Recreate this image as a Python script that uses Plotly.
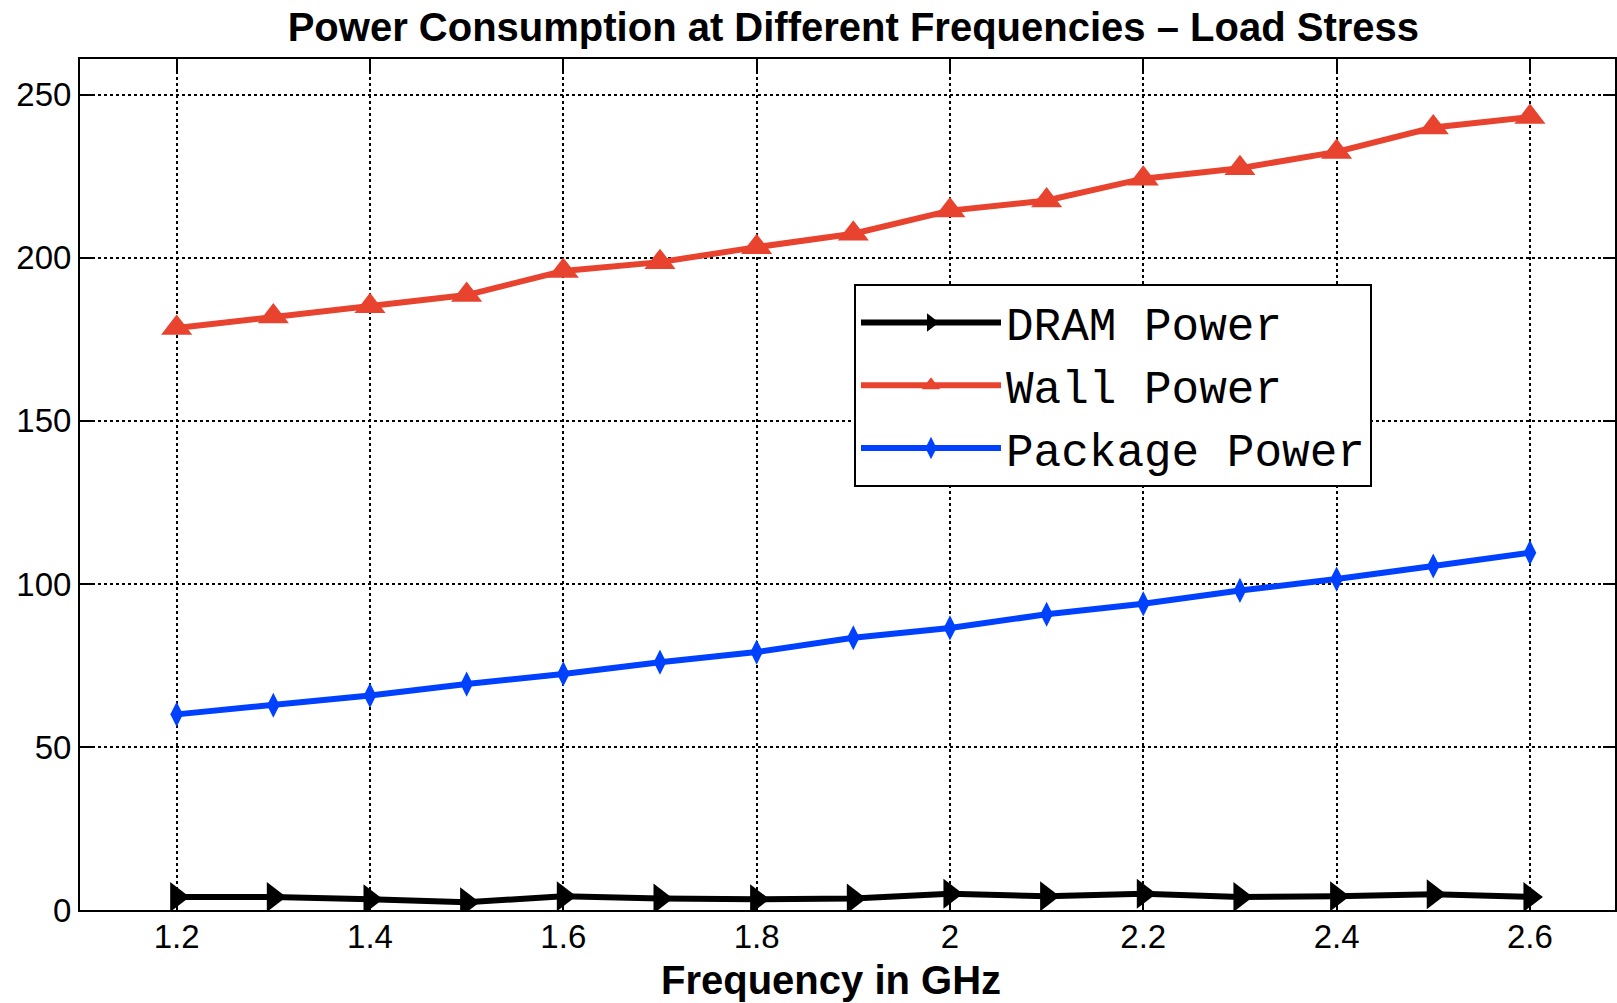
import plotly.graph_objects as go

freq = [1.2, 1.3, 1.4, 1.5, 1.6, 1.7, 1.8, 1.9, 2.0, 2.1, 2.2, 2.3, 2.4, 2.5, 2.6]
dram_power = [4.0, 4.0, 3.3, 2.4, 4.2, 3.5, 3.3, 3.5, 5.0, 4.2, 5.0, 4.0, 4.2, 4.8, 4.0]
wall_power = [178.5, 182.0, 185.2, 188.6, 196.0, 198.7, 203.3, 207.4, 214.5, 217.6,
              224.3, 227.5, 232.5, 240.0, 243.2]
package_power = [60.0, 62.8, 65.8, 69.3, 72.4, 76.0, 79.1, 83.5, 86.5, 90.7,
                 93.9, 98.0, 101.5, 105.5, 109.6]
x_ticks = [1.2, 1.4, 1.6, 1.8, 2.0, 2.2, 2.4, 2.6]
x_tick_labels = ["1.2", "1.4", "1.6", "1.8", "2", "2.2", "2.4", "2.6"]
y_ticks = [0, 50, 100, 150, 200, 250]

fig = go.Figure()
fig.add_trace(go.Scatter(
    x=freq, y=dram_power, name="DRAM Power", mode="lines+markers",
    line=dict(color="black", width=6),
    marker=dict(symbol="triangle-right", size=26, color="black")))
fig.add_trace(go.Scatter(
    x=freq, y=wall_power, name="Wall Power", mode="lines+markers",
    line=dict(color="#E8432F", width=6),
    marker=dict(symbol="triangle-up", size=27, color="#E8432F")))
fig.add_trace(go.Scatter(
    x=freq, y=package_power, name="Package Power", mode="lines+markers",
    line=dict(color="#0040FF", width=6),
    marker=dict(symbol="diamond-tall", size=18, color="#0040FF")))

axis_font = dict(family="Liberation Sans Narrow, Liberation Sans, Arial", size=33, color="black")
fig.update_layout(
    width=1617, height=1003,
    margin=dict(l=80, r=0, t=59, b=93),
    paper_bgcolor="white", plot_bgcolor="white",
    title=dict(text="<b>Power Consumption at Different Frequencies – Load Stress</b>",
               x=(80 + 1617) / 2 / 1617 + 0.003, xanchor="center", y=1 - 27 / 1003, yanchor="middle",
               font=dict(family="Liberation Sans, Arial", size=40, color="black")),
    xaxis=dict(range=[1.1, 2.688], tickvals=x_ticks, ticktext=x_tick_labels,
               showgrid=True, gridcolor="black", griddash="dot", gridwidth=1.5,
               showline=True, linecolor="black", linewidth=2, mirror="ticks",
               ticks="inside", ticklen=12, tickwidth=2, tickcolor="black",
               tickfont=axis_font, zeroline=False, ticklabelstandoff=-4),
    yaxis=dict(range=[0, 261], tickvals=y_ticks,
               showgrid=True, gridcolor="black", griddash="dot", gridwidth=1.5,
               showline=True, linecolor="black", linewidth=2, mirror="ticks",
               ticks="inside", ticklen=12, tickwidth=2, tickcolor="black",
               tickfont=axis_font, zeroline=False),
    legend=dict(x=(855 - 80) / (1617 - 80), y=(910 - 284) / 851, xanchor="left", yanchor="top",
                bgcolor="white", bordercolor="black", borderwidth=2,
                font=dict(family="Liberation Mono, Courier New, monospace", size=46, color="black"),
                itemwidth=140, tracegroupgap=0),
    showlegend=True,
    annotations=[dict(text="<b>Frequency in GHz</b>", xref="paper", yref="paper",
                      x=(832 - 80) / (1617 - 80), y=-(980 - 910) / 851,
                      xanchor="center", yanchor="middle", showarrow=False,
                      font=dict(family="Liberation Sans, Arial", size=40, color="black"))],
)
fig.write_html("out.html")
